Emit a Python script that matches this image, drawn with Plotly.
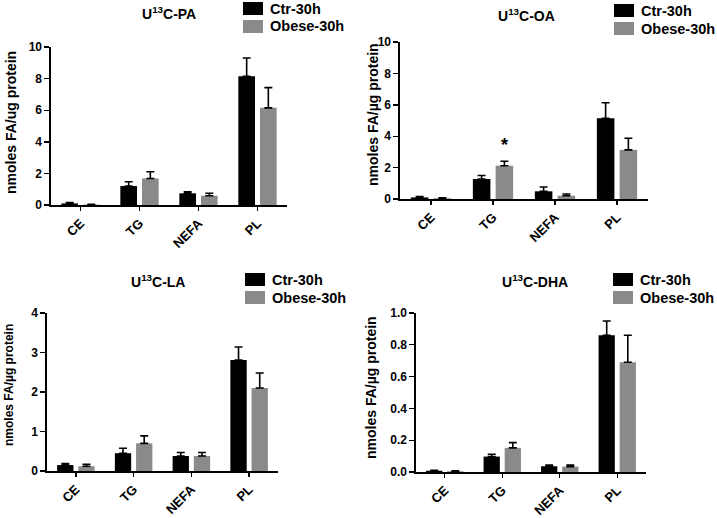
import plotly.graph_objects as go

W, H = 717, 518

categories = ["CE", "TG", "NEFA", "PL"]
series_names = ["Ctr-30h", "Obese-30h"]

pa_ctr = [0.10, 1.20, 0.74, 8.15]
pa_ctr_err = [0.05, 0.27, 0.10, 1.15]
pa_obese = [0.03, 1.68, 0.59, 6.15]
pa_obese_err = [0.02, 0.42, 0.15, 1.28]

oa_ctr = [0.10, 1.27, 0.49, 5.14]
oa_ctr_err = [0.05, 0.23, 0.27, 0.99]
oa_obese = [0.05, 2.12, 0.21, 3.13]
oa_obese_err = [0.02, 0.28, 0.11, 0.74]

la_ctr = [0.15, 0.45, 0.38, 2.81]
la_ctr_err = [0.04, 0.125, 0.09, 0.33]
la_obese = [0.12, 0.70, 0.38, 2.10]
la_obese_err = [0.05, 0.19, 0.09, 0.38]

dha_ctr = [0.008, 0.097, 0.036, 0.86]
dha_ctr_err = [0.003, 0.015, 0.008, 0.09]
dha_obese = [0.005, 0.152, 0.034, 0.69]
dha_obese_err = [0.002, 0.033, 0.010, 0.17]

titles = ["U<sup>13</sup>C-PA", "U<sup>13</sup>C-OA", "U<sup>13</sup>C-LA", "U<sup>13</sup>C-DHA"]
ylabels = ["nmoles FA/ug protein", "nmoles FA/µg protein", "nmoles FA/µg protein", "nmoles FA/µg protein"]
yranges = [[0, 10], [0, 10], [0, 4], [0, 1.0]]
ytickvals = [[0, 2, 4, 6, 8, 10], [0, 2, 4, 6, 8, 10], [0, 1, 2, 3, 4], [0, 0.2, 0.4, 0.6, 0.8, 1.0]]
yticklabels = [["0", "2", "4", "6", "8", "10"], ["0", "2", "4", "6", "8", "10"],
               ["0", "1", "2", "3", "4"], ["0.0", "0.2", "0.4", "0.6", "0.8", "1.0"]]

data = [
    (pa_ctr, pa_ctr_err, pa_obese, pa_obese_err),
    (oa_ctr, oa_ctr_err, oa_obese, oa_obese_err),
    (la_ctr, la_ctr_err, la_obese, la_obese_err),
    (dha_ctr, dha_ctr_err, dha_obese, dha_obese_err),
]

# layout geometry in pixels
panels = [
    dict(x0=51, x1=287, yt=47, yb=205, tx=169, ty=13, lx=243, ly=2, ylx=11, yly=123, ylfs=14),
    dict(x0=400, x1=648, yt=42, yb=199, tx=526, ty=15, lx=614, ly=4, ylx=373, yly=115, ylfs=14),
    dict(x0=47, x1=278, yt=313, yb=471, tx=158, ty=281, lx=245, ly=273, ylx=9, yly=385, ylfs=12),
    dict(x0=416, x1=646, yt=313, yb=472, tx=535, ty=281, lx=613, ly=273, ylx=371, yly=388, ylfs=14),
]

colors = ["#000000", "#8a8a8a"]
FONT = "Arial, Liberation Sans, Helvetica, sans-serif"

fig = go.Figure()
shapes = []
annotations = []

def px(x):
    return x / W

def py(y):
    return 1 - y / H

def b(s):
    return "<b>" + s + "</b>"

for i, (p, d) in enumerate(zip(panels, data)):
    n = "" if i == 0 else str(i + 1)
    xa, ya = "x" + n, "y" + n
    ctr, ctr_e, ob, ob_e = d
    for k, (vals, errs) in enumerate([(ctr, ctr_e), (ob, ob_e)]):
        fig.add_trace(go.Bar(
            x=categories, y=vals, name=series_names[k], xaxis=xa, yaxis=ya,
            marker=dict(color=colors[k], line=dict(width=0)),
            error_y=dict(type="data", array=errs, arrayminus=[0] * len(errs), symmetric=False,
                         color="#000000", thickness=1.6, width=4),
            showlegend=False,
        ))
    axis_common = dict(showline=True, linecolor="#000000", linewidth=1.6, ticks="outside",
                       tickcolor="#000000", tickwidth=1.4, showgrid=False, zeroline=False,
                       automargin=False)
    fig.layout["xaxis" + n] = dict(domain=[px(p["x0"]), px(p["x1"])], anchor=ya, type="category",
                                   range=[-0.5, 3.5], ticklen=4,
                                   tickangle=-45, tickmode="array", tickvals=categories,
                                   ticktext=[b(c) for c in categories],
                                   tickfont=dict(family=FONT, size=13, color="#000000"),
                                   **axis_common)
    fig.layout["yaxis" + n] = dict(domain=[py(p["yb"]), py(p["yt"])], anchor=xa, range=yranges[i],
                                   tickmode="array", tickvals=ytickvals[i],
                                   ticktext=[b(t) for t in yticklabels[i]], ticklen=5,
                                   tickfont=dict(family=FONT, size=12, color="#000000"),
                                   **axis_common)
    # title
    annotations.append(dict(x=px(p["tx"]), y=py(p["ty"]), xref="paper", yref="paper", text=b(titles[i]),
                            showarrow=False, xanchor="center", yanchor="middle",
                            font=dict(family=FONT, size=14, color="#000000")))
    # y label
    annotations.append(dict(x=px(p["ylx"]), y=py(p["yly"]), xref="paper", yref="paper", text=b(ylabels[i]),
                            showarrow=False, xanchor="center", yanchor="middle", textangle=-90,
                            font=dict(family=FONT, size=p["ylfs"], color="#000000")))
    # legend
    for k in range(2):
        top = p["ly"] + k * 18
        shapes.append(dict(type="rect", xref="paper", yref="paper",
                           x0=px(p["lx"]), x1=px(p["lx"] + 20), y0=py(top + 13), y1=py(top),
                           fillcolor=colors[k], line=dict(width=0)))
        annotations.append(dict(x=px(p["lx"] + 25), y=py(top + 6.5), xref="paper", yref="paper",
                                text=b(series_names[k]), showarrow=False, xanchor="left", yanchor="middle",
                                font=dict(family=FONT, size=14.5, color="#000000")))

# significance star on OA / TG obese bar
annotations.append(dict(x="TG", y=3.45, xref="x2", yref="y2", text="<b>*</b>", showarrow=False,
                        xshift=11, yanchor="middle",
                        font=dict(family=FONT, size=18, color="#000000")))

fig.update_layout(
    width=W, height=H, margin=dict(l=0, r=0, t=0, b=0, autoexpand=False),
    paper_bgcolor="#ffffff", plot_bgcolor="#ffffff",
    barmode="group", bargap=0.266, bargroupgap=0.23,
    shapes=shapes, annotations=annotations, showlegend=False,
)

fig.write_html("out.html", config={"displayModeBar": False, "staticPlot": True},
               post_script="document.body.style.margin='0';")
